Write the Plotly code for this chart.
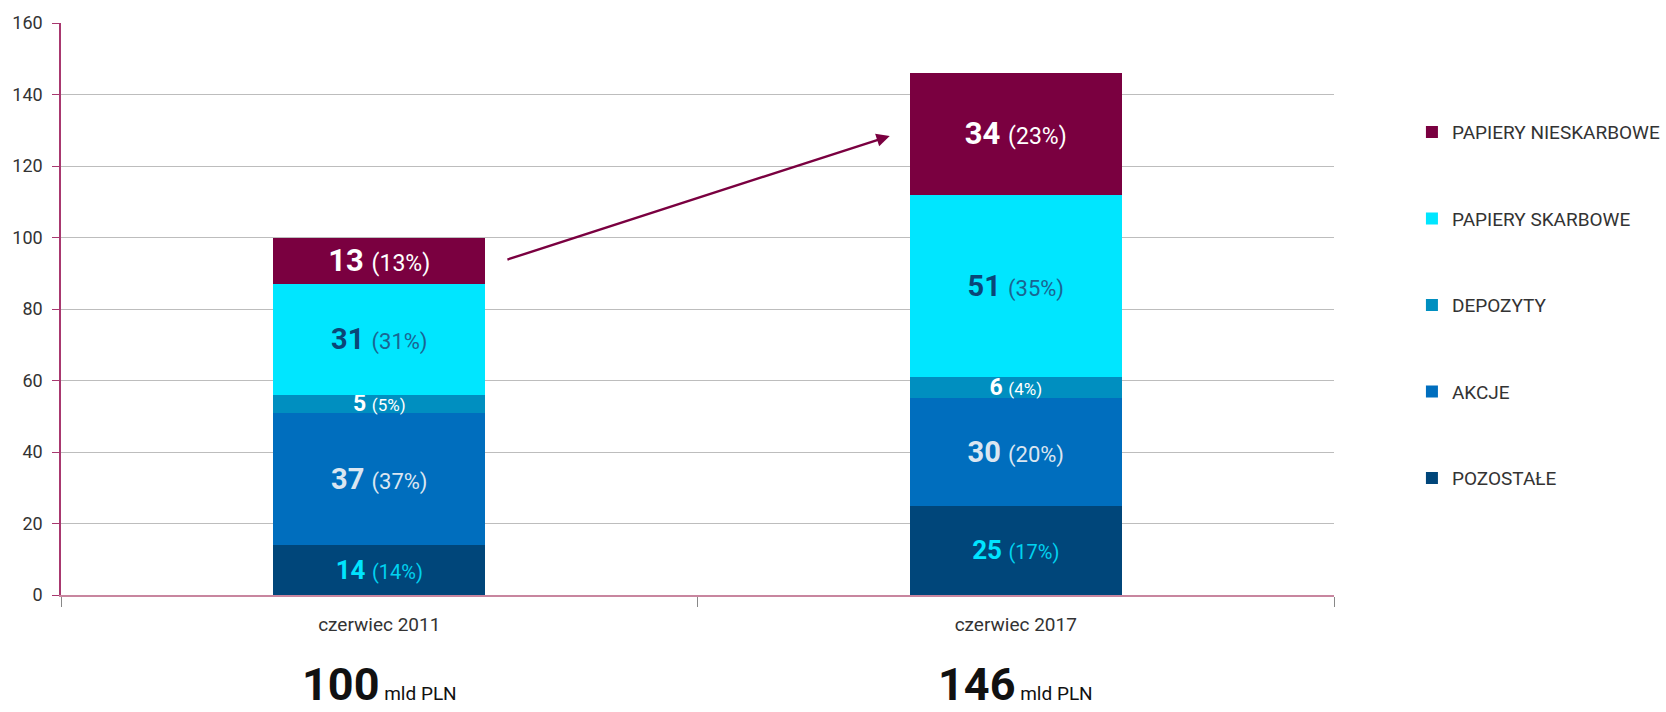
import plotly.graph_objects as go

# Periods on the x axis and total assets (bln PLN)
periods = ["czerwiec 2011", "czerwiec 2017"]
totals = [100, 146]

# Segment values (bln PLN), bottom to top of the stack
pozostale = [14, 25]
akcje = [37, 30]
depozyty = [5, 6]
skarbowe = [31, 51]
nieskarbowe = [13, 34]

# Share of each segment in the total (%)
pozostale_pct = [14, 17]
akcje_pct = [37, 20]
depozyty_pct = [5, 4]
skarbowe_pct = [31, 35]
nieskarbowe_pct = [13, 23]

series_names = ["POZOSTAŁE", "AKCJE", "DEPOZYTY", "PAPIERY SKARBOWE", "PAPIERY NIESKARBOWE"]
series_values = [pozostale, akcje, depozyty, skarbowe, nieskarbowe]
series_pcts = [pozostale_pct, akcje_pct, depozyty_pct, skarbowe_pct, nieskarbowe_pct]

y_ticks = [0, 20, 40, 60, 80, 100, 120, 140, 160]

# Styling per segment: fill, number colour, percent colour, number size, percent size
fills = ["#00467a", "#006ebe", "#008fc0", "#00e6ff", "#7a0040"]
num_colors = ["#00e4ff", "#dbe6f1", "#ffffff", "#0a4677", "#ffffff"]
pct_colors = ["#00d2f0", "#dbe6f1", "#ffffff", "#1a6592", "#ffffff"]
num_sizes = [26, 29, 23, 29, 31]
pct_sizes = [20, 22, 17, 22, 23]

LABEL_FONT = "Roboto, 'DejaVu Sans', sans-serif"

fig = go.Figure()

n = len(series_names)
for i, (name, vals, pcts, fill, nc, pc, ns, ps) in enumerate(zip(
    series_names, series_values, series_pcts, fills, num_colors, pct_colors, num_sizes, pct_sizes
)):
    texts = [
        f"<b>{v}</b> <span style='font-size:{ps}px;fill:{pc};font-weight:normal'>({p}%)</span>"
        for v, p in zip(vals, pcts)
    ]
    fig.add_trace(
        go.Bar(
            x=periods,
            y=vals,
            name=name,
            legendgroup=name,
            legendrank=(n - i) * 10,
            marker=dict(color=fill, line=dict(width=0)),
            text=texts,
            textposition="inside",
            insidetextanchor="middle",
            constraintext="none",
            textangle=0,
            textfont=dict(family=LABEL_FONT, size=ns, color=nc),
            hoverinfo="skip",
        )
    )

# Growth arrow between the two stacks
fig.add_annotation(
    x=0.802, y=128.4, ax=0.199, ay=93.7,
    xref="x", yref="y", axref="x", ayref="y",
    text="", showarrow=True,
    arrowhead=2, arrowsize=1.1, arrowwidth=2.4, arrowcolor="#7a0040",
)

# Totals under each period
for per, tot in zip(periods, totals):
    fig.add_annotation(
        x=per, y=-0.156, xref="x", yref="paper",
        text=f"<b>{tot}</b><span style='font-size:19px'> mld PLN</span>",
        showarrow=False, yanchor="middle", xanchor="center",
        font=dict(family=LABEL_FONT, size=45, color="#111111"),
    )

fig.update_layout(
    barmode="stack",
    bargap=0.667,
    width=1666,
    height=712,
    margin=dict(l=61, r=332, t=18, b=117),
    paper_bgcolor="white",
    plot_bgcolor="white",
    font=dict(family=LABEL_FONT, color="#333333"),
    legend=dict(
        xref="container", yref="container",
        x=0.8475, y=0.841, xanchor="left", yanchor="top",
        maxheight=600,
        traceorder="grouped",
        tracegroupgap=58.8,
        font=dict(family=LABEL_FONT, size=19, color="#333333"),
        itemclick=False, itemdoubleclick=False,
        bgcolor="rgba(0,0,0,0)",
    ),
    showlegend=True,
)

fig.update_xaxes(
    type="category",
    range=[-0.5, 1.5],
    showline=True, linecolor="#c8869f", linewidth=1.5,
    showgrid=False,
    ticks="outside", tickson="boundaries", ticklen=10, tickcolor="#888888", tickwidth=1,
    tickfont=dict(family=LABEL_FONT, size=19, color="#333333"),
    ticklabelstandoff=11,
)

fig.update_yaxes(
    range=[0, 160],
    tickvals=y_ticks,
    showline=True, linecolor="#a8386f", linewidth=1.5,
    showgrid=True, gridcolor="#bdbdbd", gridwidth=1,
    zeroline=False,
    ticks="outside", ticklen=7, tickcolor="#a8386f",
    tickfont=dict(family=LABEL_FONT, size=18, color="#333333"),
    ticklabelstandoff=6,
)

fig.write_html("out.html")
